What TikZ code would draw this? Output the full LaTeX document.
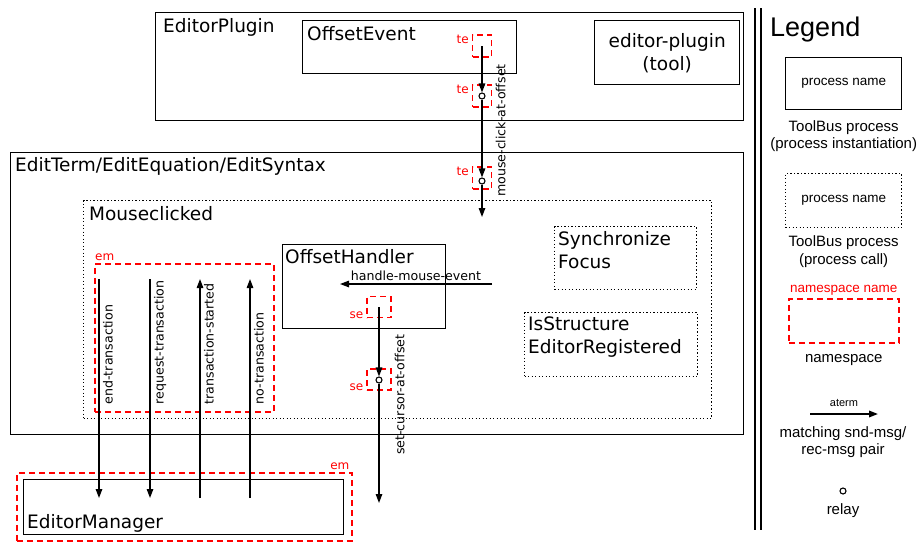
\documentclass[tikz,border=0pt]{standalone}
\usepackage{fontspec}
\setmainfont{DejaVu Sans}
\newfontfamily\legendfont{Liberation Sans}
\usetikzlibrary{arrows.meta,positioning}

\tikzset{
  process/.style={draw, line width=1.4pt, anchor=north west, inner sep=0pt},
  call/.style={draw, line width=1.3pt, dash pattern=on 1.3pt off 2.2pt, anchor=north west, inner sep=0pt},
  ns/.style={draw=red, line width=1.6pt, dash pattern=on 6pt off 4pt, inner sep=0pt},
  nslbl/.style={text=red, inner sep=1pt, font=\fontsize{12}{14}\selectfont},
  nstag/.style={nslbl, anchor=east, label distance=2pt},
  title/.style={anchor=north west, inner sep=0pt, align=left, font=\fontsize{18.5}{23}\selectfont},
  msg/.style={line width=1.3pt, -{Triangle[length=9pt,width=6.5pt]}},
  msglbl/.style={rotate=90, anchor=north west, inner sep=3.5pt, font=\fontsize{12.6}{15}\selectfont},
  relay/.style={circle, draw, fill=white, line width=1.1pt, minimum size=6pt, inner sep=0pt},
  legdesc/.style={inner sep=0pt, align=center, font=\legendfont\fontsize{15}{17.5}\selectfont},
  legbox/.style={font=\legendfont\fontsize{13.5}{16}\selectfont},
}

\begin{document}
\begin{tikzpicture}[x=1pt, y=-1pt]
\path[use as bounding box, fill=white] (0,0) rectangle (924,542);

% EditorPlugin
\node[process, minimum width=588pt, minimum height=108pt] (plugin) at (155,12) {};
\node[title] at ([xshift=8pt, yshift=-6pt]plugin.north west) {EditorPlugin};
\node[process, minimum width=214pt, minimum height=53pt] (offsetevent) at (302,20) {};
\node[title] at ([xshift=5pt, yshift=-6pt]offsetevent.north west) {OffsetEvent};
\node[process, minimum width=145pt, minimum height=64pt, align=center,
  font=\fontsize{18.5}{23}\selectfont] (tool) at (594,20) {editor-plugin\\(tool)};

% EditTerm
\node[process, minimum width=733pt, minimum height=282pt] (editterm) at (10,152) {};
\node[title] at ([xshift=5pt, yshift=-5pt]editterm.north west) {EditTerm/EditEquation/EditSyntax};
\node[call, minimum width=628pt, minimum height=218pt] (mouseclicked) at (83,200) {};
\node[title] at ([xshift=6pt, yshift=-6pt]mouseclicked.north west) {Mouseclicked};
\node[call, minimum width=142pt, minimum height=63pt] (synchronize) at (554,226) {};
\node[title] at ([xshift=4pt, yshift=-5pt]synchronize.north west) {Synchronize\\Focus};
\node[call, minimum width=173pt, minimum height=64pt] (isstructure) at (524,312) {};
\node[title] at ([xshift=4pt, yshift=-5pt]isstructure.north west) {IsStructure\\EditorRegistered};
\node[process, minimum width=163pt, minimum height=84pt] (offsethandler) at (282,244) {};
\node[title] at ([xshift=3pt, yshift=-5pt]offsethandler.north west) {OffsetHandler};
\node[ns, anchor=north west, minimum width=179pt, minimum height=148pt] (eminner) at (94,263) {};
\node[nslbl, anchor=south west] at ([yshift=1pt]eminner.north west) {em};

% EditorManager
\node[ns, anchor=north west, minimum width=335pt, minimum height=68pt] (emouter) at (16,472) {};
\node[nslbl, anchor=south east] at ([xshift=-2pt, yshift=1pt]emouter.north east) {em};
\node[process, minimum width=320pt, minimum height=55pt] (editormanager) at (23,479) {};
\node[title] at ([xshift=4pt, yshift=-35pt]editormanager.north west) {EditorManager};

% mouse-click-at-offset
\node[ns, minimum width=19pt, minimum height=22pt, label={[nstag]150:te}] (te1) at (482,46) {};
\node[ns, minimum width=19pt, minimum height=22pt, label={[nstag]150:te}] (te2) at (482,96) {};
\node[ns, minimum width=19pt, minimum height=22pt, label={[nstag]150:te}] (te3) at (482,178) {};
\node[relay] (r1) at (482,96) {};
\node[relay] (r2) at (482,181) {};
\coordinate (mcend) at (482,217);
\draw[msg] (te1.center) -- (r1);
\draw[msg] (r1) -- (r2);
\draw[msg] (r2) -- (mcend);
\node[msglbl] (mclbl) at (492,200.5) {mouse-click-at-offset};

% handle-mouse-event
\coordinate (hmstart) at (492,284);
\coordinate (hmend) at (340,284);
\draw[msg] (hmstart) -- node[above=2pt, inner sep=1pt, font=\fontsize{12.6}{15}\selectfont] {handle-mouse-event} (hmend);

% set-cursor-at-offset
\node[ns, minimum width=24pt, minimum height=21pt, label={[nstag]208:se}] (se1) at (379,307) {};
\node[ns, minimum width=24pt, minimum height=21pt, label={[nstag]208:se}] (se2) at (379,379.5) {};
\node[relay] (r3) at (379,380) {};
\coordinate (scend) at (379,503);
\draw[msg] (se1.center) -- (r3);
\draw[msg] (r3) -- (scend);
\node[msglbl] (sclbl) at (391,458.5) {set-cursor-at-offset};

% transactions
\coordinate (endtop) at (99,279);
\coordinate (endbot) at (99,498);
\coordinate (reqtop) at (150,279);
\coordinate (reqbot) at (150,498);
\coordinate (starttop) at (200,279);
\coordinate (startbot) at (200,498);
\coordinate (notop) at (250,279);
\coordinate (nobot) at (250,498);
\draw[msg] (endtop) -- node[msglbl, pos=0.591] {end-transaction} (endbot);
\draw[msg] (reqtop) -- node[msglbl, pos=0.591] {request-transaction} (reqbot);
\draw[msg] (startbot) -- node[msglbl, pos=0.409] {transaction-started} (starttop);
\draw[msg] (nobot) -- node[msglbl, pos=0.409] {no-transaction} (notop);

% Legend
\coordinate (sepatop) at (755,8);
\coordinate (sepabot) at (755,530);
\coordinate (sepbtop) at (761,8);
\coordinate (sepbbot) at (761,530);
\draw[line width=1.8pt] (sepatop) -- (sepabot);
\draw[line width=1.8pt] (sepbtop) -- (sepbbot);
\node[anchor=north west, inner sep=0pt, font=\legendfont\fontsize{27}{30}\selectfont] (legend) at (770,17) {Legend};

\node[process, legbox, minimum width=116pt, minimum height=52pt] (legproc) at (785,57) {process name};
\node[legdesc, below=10pt of legproc] (legprocdesc) {ToolBus process\\(process instantiation)};
\node[call, legbox, minimum width=116pt, minimum height=54pt] (legcall) at (785,173) {process name};
\node[legdesc, below=7.5pt of legcall] (legcalldesc) {ToolBus process\\(process call)};
\node[ns, anchor=north west, minimum width=110pt, minimum height=44pt] (legns) at (788,298) {};
\node[nslbl, legbox, inner sep=0pt, above=3pt of legns] (legnsname) {namespace name};
\node[legdesc, below=11pt of legns] (legnsdesc) {namespace};

\coordinate (legmsgstart) at (810,414);
\coordinate (legmsgend) at (878,414);
\draw[msg, line width=1.8pt] (legmsgstart) -- node[above=7pt, inner sep=0pt, font=\legendfont\fontsize{11}{13}\selectfont] {aterm} (legmsgend);
\node[legdesc, anchor=north] (legmsgdesc) at (843,426) {matching snd-msg/\\rec-msg pair};
\node[relay] (legrelay) at (843,491) {};
\node[legdesc, anchor=north] (legrelaydesc) at (843,503) {relay};
\end{tikzpicture}
\end{document}
